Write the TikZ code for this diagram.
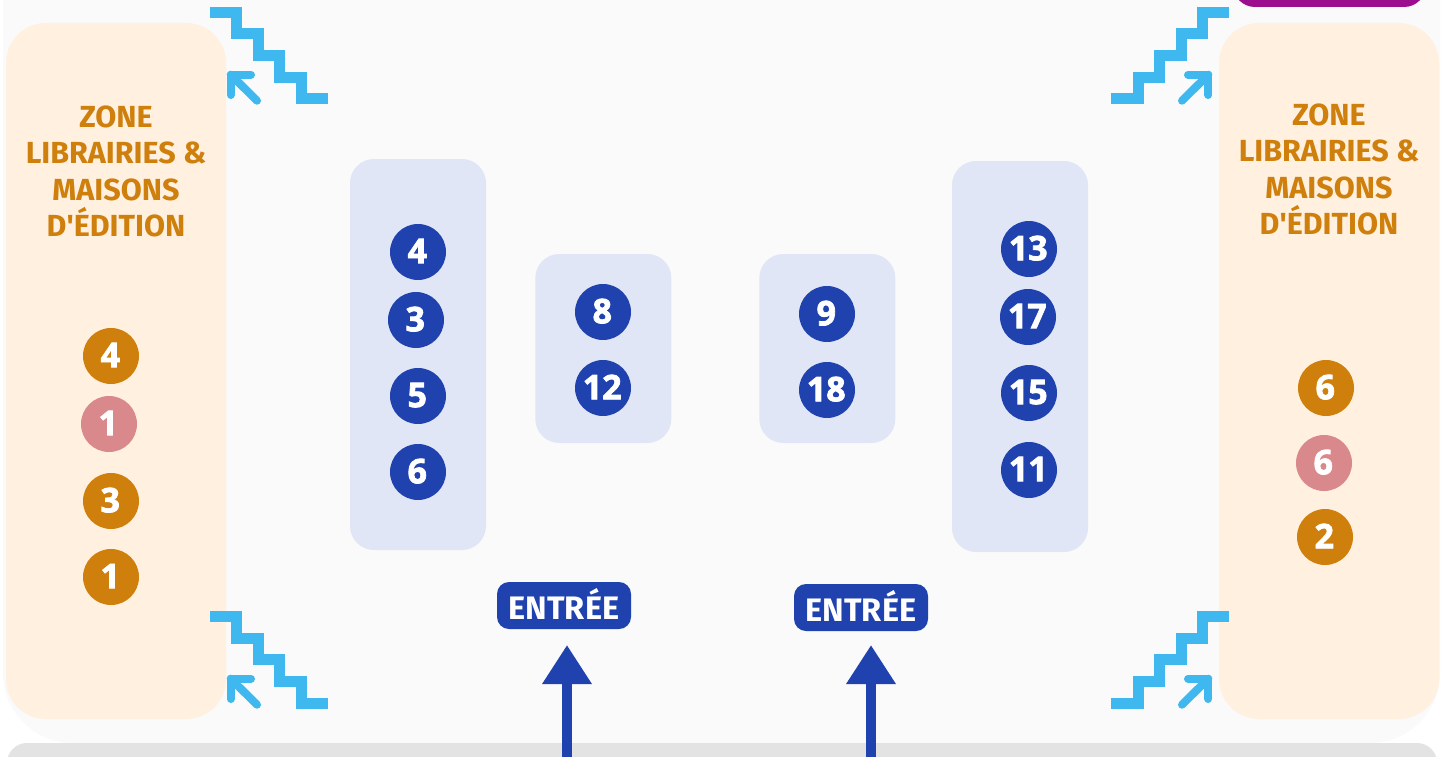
\documentclass[tikz,border=0pt]{standalone}
\usepackage{fontspec}
\setmainfont{Fira Sans}
\newfontfamily\numfont[BoldFeatures={FakeBold=2.2}]{Open Sans}
\usetikzlibrary{arrows.meta}
\definecolor{pagebg}{HTML}{FAFAFA}
\definecolor{roadgrey}{HTML}{E3E3E3}
\definecolor{zonebg}{HTML}{FFF0DF}
\definecolor{zonetx}{HTML}{CF7F0C}
\definecolor{pinkish}{HTML}{D9888C}
\definecolor{royal}{HTML}{1F42AE}
\definecolor{sky}{HTML}{3FB8F0}
\definecolor{panelbg}{HTML}{E0E6F5}
\definecolor{purp}{HTML}{9B0E8E}
\newcommand{\bnum}[1]{\raisebox{2pt}{\kern-1.5pt #1}}
\tikzset{
  x=1pt,y=-1pt,
  every node/.style={inner sep=0pt,outer sep=0pt},
  zonebox/.style={fill=zonebg,rounded corners=40pt,minimum width=220pt,minimum height=696pt},
  panelbox/.style={fill=panelbg,rounded corners=24pt,minimum width=136pt},
  zonetitle/.style={text=zonetx,align=center,font=\fontsize{30.5}{36.6}\selectfont\bfseries},
  badge/.style={circle,minimum size=56pt,text=white,font=\fontsize{34}{34}\selectfont\numfont\bfseries},
  bluebadge/.style={badge,fill=royal},
  orangebadge/.style={badge,fill=zonetx},
  pinkbadge/.style={badge,fill=pinkish},
  entreebox/.style={fill=royal,rounded corners=12pt,minimum width=134pt,minimum height=47pt,text=white},
  entreetext/.style={text=white,font=\fontsize{32.5}{32.5}\selectfont\bfseries},
  stairline/.style={draw=sky,line width=11pt,miter limit=10},
  turnarrow/.style={draw=sky,line width=8pt,line cap=round,line join=round},
  entryarrow/.style={draw=royal,line width=10pt,-{Triangle[length=39pt,width=47pt,fill=royal]}},
}
\begin{document}
\begin{tikzpicture}
\useasboundingbox (0,0) rectangle (1450,757);
\fill[white] (0,0) rectangle (1450,757);
\begin{scope}
\clip (0,0) rectangle (1450,757);
\fill[pagebg,rounded corners=70pt] (3,-100) rectangle (1440,743);
\fill[roadgrey,rounded corners=20pt] (7,743) rectangle (1437,860);
\fill[purp,rounded corners=22pt] (1233,-60) rectangle (1426,7);

% zones
\node[zonebox] (zoneL) at (116,371) {};
\node[zonebox] (zoneR) at (1329,371) {};
\node[zonetitle] (titleL) at (116,171.5) {ZONE\\LIBRAIRIES \&\\MAISONS\\D\textquotesingle ÉDITION};
\node[zonetitle] (titleR) at (1329,169.5) {ZONE\\LIBRAIRIES \&\\MAISONS\\D\textquotesingle ÉDITION};

% panels
\node[panelbox,minimum height=391pt] (p1) at (418,354.5) {};
\node[panelbox,minimum height=189pt] (p2) at (603.3,348.5) {};
\node[panelbox,minimum height=189pt] (p3) at (827.3,348.5) {};
\node[panelbox,minimum height=391pt] (p4) at (1020,356.5) {};

% badges
\node[bluebadge] (a1) at (418,252) {\bnum{4}};
\node[bluebadge] (a2) at (416,320) {\bnum{3}};
\node[bluebadge] (a3) at (418,396) {\bnum{5}};
\node[bluebadge] (a4) at (418,472) {\bnum{6}};
\node[bluebadge] (b1) at (603,312) {\bnum{8}};
\node[bluebadge] (b2) at (603,388) {\bnum{12}};
\node[bluebadge] (c1) at (827,314) {\bnum{9}};
\node[bluebadge] (c2) at (827,390) {\bnum{18}};
\node[bluebadge] (d1) at (1029,249) {\bnum{13}};
\node[bluebadge] (d2) at (1028,317) {\bnum{17}};
\node[bluebadge] (d3) at (1029,393) {\bnum{15}};
\node[bluebadge] (d4) at (1029,470) {\bnum{11}};
\node[orangebadge] (l1) at (111,356) {\bnum{4}};
\node[pinkbadge] (l2) at (109,424) {\bnum{1}};
\node[orangebadge] (l3) at (111,501) {\bnum{3}};
\node[orangebadge] (l4) at (111,577) {\bnum{1}};
\node[orangebadge] (r1) at (1326,388) {\bnum{6}};
\node[pinkbadge] (r2) at (1324,463) {\bnum{6}};
\node[orangebadge] (r3) at (1325,537) {\bnum{2}};

% stairs
\foreach \dy in {0,604}{
  \begin{scope}[yshift=-\dy pt]
    \draw[stairline] (210,12.5) -- (236.5,12.5) -- (236.5,34) -- (258,34) -- (258,55.5) -- (279.5,55.5) -- (279.5,77.5) -- (301,77.5) -- (301,99) -- (328,99);
    \draw[turnarrow] (251,74.7) -- (230.7,74.7) -- (230.7,95);
    \draw[turnarrow] (230.7,74.7) -- (257,100.7);
    \draw[stairline] (1229,12.5) -- (1202.5,12.5) -- (1202.5,34) -- (1181,34) -- (1181,55.5) -- (1159.5,55.5) -- (1159.5,77.5) -- (1138,77.5) -- (1138,99) -- (1111,99);
    \draw[turnarrow] (1188,74.7) -- (1208.3,74.7) -- (1208.3,95);
    \draw[turnarrow] (1208.3,74.7) -- (1182,100.7);
  \end{scope}
}

% entrances
\node[entreebox,entreetext] (e1) at (564,605.5) {\raisebox{3.5pt}{ENTRÉE}};
\node[entreebox,entreetext] (e2) at (861,607.5) {\raisebox{3.5pt}{ENTRÉE}};
\coordinate (s1) at (567,770);
\coordinate (t1) at (567,645);
\coordinate (s2) at (871,770);
\coordinate (t2) at (871,645);
\draw[entryarrow] (s1) -- (t1);
\draw[entryarrow] (s2) -- (t2);
\end{scope}
\end{tikzpicture}
\end{document}
